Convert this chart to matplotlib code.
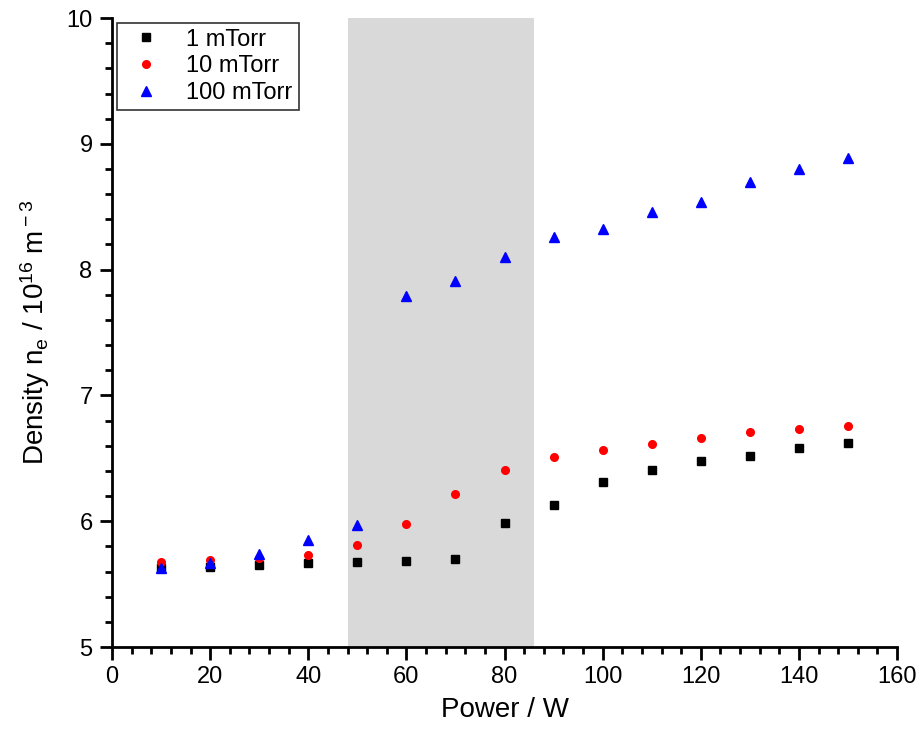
import matplotlib
matplotlib.use("Agg")
import matplotlib.pyplot as plt
from matplotlib.ticker import MultipleLocator

plt.rcParams['font.family'] = ['Liberation Sans', 'DejaVu Sans']
plt.rcParams['mathtext.fontset'] = 'custom'
plt.rcParams['mathtext.rm'] = 'Liberation Sans'
plt.rcParams['mathtext.it'] = 'Liberation Sans'

# data
power = [10, 20, 30, 40, 50, 60, 70, 80, 90, 100, 110, 120, 130, 140, 150]
ne_1 = [5.63, 5.64, 5.65, 5.665, 5.675, 5.685, 5.70, 5.985, 6.13, 6.31, 6.405, 6.476, 6.52, 6.585, 6.62]
ne_10 = [5.675, 5.695, 5.71, 5.73, 5.81, 5.98, 6.22, 6.41, 6.51, 6.565, 6.61, 6.664, 6.71, 6.735, 6.76]
ne_100 = [5.63, 5.665, 5.737, 5.85, 5.97, 7.79, 7.91, 8.10, 8.26, 8.325, 8.46, 8.54, 8.70, 8.80, 8.885]
labels = ['1 mTorr', '10 mTorr', '100 mTorr']
shade_lo, shade_hi = 48, 86

fig = plt.figure(figsize=(9.22, 7.36), dpi=100)
ax = fig.add_axes([0.1215, 0.1209, 0.8515, 0.8546])

ax.axvspan(shade_lo, shade_hi, color='#d9d9d9', lw=0, zorder=0)

ax.plot(power, ne_1, 's', color='black', ms=5.5, label=labels[0], zorder=3)
ax.plot(power, ne_10, 'o', color='red', ms=5.5, label=labels[1], zorder=3)
ax.plot(power, ne_100, '^', color='blue', ms=6.5, label=labels[2], zorder=3)

ax.set_xlim(0, 160)
ax.set_ylim(5, 10)
ax.xaxis.set_major_locator(MultipleLocator(20))
ax.xaxis.set_minor_locator(MultipleLocator(4))
ax.yaxis.set_major_locator(MultipleLocator(1))
ax.yaxis.set_minor_locator(MultipleLocator(0.2))

for s in ['top', 'right']:
    ax.spines[s].set_visible(False)
for s in ['left', 'bottom']:
    ax.spines[s].set_linewidth(2)

ax.tick_params(which='major', direction='out', length=9, width=2, labelsize=17, pad=5)
ax.tick_params(which='minor', direction='out', length=5, width=2)

ax.set_xlabel('Power / W', fontsize=20, labelpad=6)
ax.set_ylabel(r'Density n$_{\rm e}$ / 10$^{16}$ m$^{\rm -3}$', fontsize=20, labelpad=10)

leg = ax.legend(loc='upper left', fontsize=17, frameon=True, fancybox=False,
                edgecolor='black', borderaxespad=0.2, handletextpad=0.7,
                borderpad=0.25, labelspacing=0.2)
leg.get_frame().set_linewidth(1.2)

fig.savefig('out.png', dpi=100)
